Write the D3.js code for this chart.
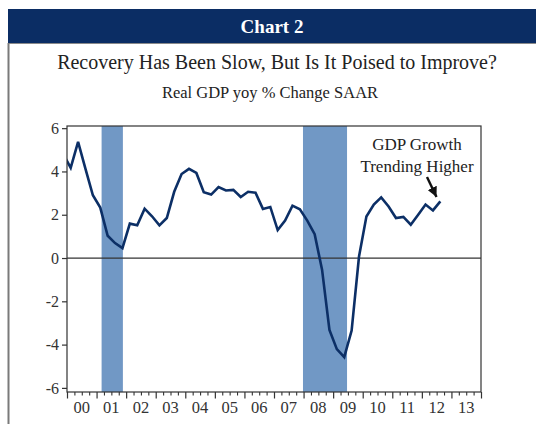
<!DOCTYPE html>
<html><head><meta charset="utf-8">
<script src="https://cdn.jsdelivr.net/npm/d3@7"></script>
<style>
html,body{margin:0;padding:0;background:#fff;}
svg{display:block;font-family:"Liberation Serif","DejaVu Serif",serif;}
</style></head>
<body><svg id="c" width="536" height="424"></svg>
<script>
// ---- data ----
const quarters = ["1999Q4",
 "2000Q1","2000Q2","2000Q3","2000Q4","2001Q1","2001Q2","2001Q3","2001Q4",
 "2002Q1","2002Q2","2002Q3","2002Q4","2003Q1","2003Q2","2003Q3","2003Q4",
 "2004Q1","2004Q2","2004Q3","2004Q4","2005Q1","2005Q2","2005Q3","2005Q4",
 "2006Q1","2006Q2","2006Q3","2006Q4","2007Q1","2007Q2","2007Q3","2007Q4",
 "2008Q1","2008Q2","2008Q3","2008Q4","2009Q1","2009Q2","2009Q3","2009Q4",
 "2010Q1","2010Q2","2010Q3","2010Q4","2011Q1","2011Q2","2011Q3","2011Q4",
 "2012Q1","2012Q2","2012Q3"];
const gdpYoy = [4.8,
 4.17,5.37,4.12,2.9,2.33,1.03,0.69,0.46,
 1.59,1.51,2.28,1.93,1.51,1.85,3.06,3.88,
 4.12,3.93,3.04,2.93,3.28,3.12,3.15,2.82,
 3.06,3.02,2.27,2.36,1.29,1.73,2.42,2.25,
 1.73,1.1,-0.54,-3.32,-4.21,-4.58,-3.35,0.07,
 1.92,2.47,2.8,2.38,1.85,1.9,1.54,2.0,
 2.47,2.2,2.62];
const recessions = [[2001.17, 2001.89], [2007.98, 2009.47]];
const yTicks = [-6,-4,-2,0,2,4,6];
const xYears = [2000,2001,2002,2003,2004,2005,2006,2007,2008,2009,2010,2011,2012,2013];
const xLabels = ["00","01","02","03","04","05","06","07","08","09","10","11","12","13"];
const headerText = "Chart 2";
const titleText = "Recovery Has Been Slow, But Is It Poised to Improve?";
const subtitleText = "Real GDP yoy % Change SAAR";
const noteLines = ["GDP Growth","Trending Higher"];

// ---- layout ----
const svg = d3.select("#c");
const navy = "#0b2d64";
const lineCol = "#0c2f66";
const recCol = "#7198c5";
const axisCol = "#333";

// header & panel
svg.append("rect").attr("x",8).attr("y",9).attr("width",528).attr("height",34).attr("fill",navy);
svg.append("line").attr("x1",8).attr("x2",536).attr("y1",43.5).attr("y2",43.5).attr("stroke","#8a8a8a").attr("stroke-width",1);
svg.append("line").attr("x1",8.5).attr("x2",8.5).attr("y1",43).attr("y2",424).attr("stroke","#7a7a7a").attr("stroke-width",2);
svg.append("text").attr("x",272).attr("y",32.5).attr("text-anchor","middle")
  .attr("fill","#fff").attr("font-weight","bold").attr("font-size",19).text(headerText);
svg.append("text").attr("x",277).attr("y",69).attr("text-anchor","middle")
  .attr("fill","#222").attr("font-size",20).text(titleText);
svg.append("text").attr("x",270).attr("y",98).attr("text-anchor","middle")
  .attr("fill","#222").attr("font-size",16.5).text(subtitleText);

const L=67,R=481,T=126,B=392;
const x = d3.scaleLinear().domain([2000,2014]).range([L,R]);
const y = d3.scaleLinear().domain([-6.19,6.1]).range([B,T]);

const qTime = q => +q.slice(0,4) + (+q.slice(5)-1)/4 + 0.125;
const data = quarters.map((q,i)=>({t:qTime(q), v:gdpYoy[i]}));

svg.append("clipPath").attr("id","clip").append("rect")
  .attr("x",L).attr("y",T).attr("width",R-L).attr("height",B-T);

// recession bars
svg.append("g").selectAll("rect").data(recessions).join("rect")
  .attr("x",d=>x(d[0])).attr("width",d=>x(d[1])-x(d[0]))
  .attr("y",T).attr("height",B-T).attr("fill",recCol);

// zero line
svg.append("line").attr("x1",L).attr("x2",R).attr("y1",y(0)).attr("y2",y(0))
  .attr("stroke",axisCol).attr("stroke-width",1.2);

// line
svg.append("path").datum(data).attr("clip-path","url(#clip)")
  .attr("fill","none").attr("stroke",lineCol).attr("stroke-width",2.6)
  .attr("stroke-linejoin","miter").attr("stroke-miterlimit",3)
  .attr("d", d3.line().x(d=>x(d.t)).y(d=>y(d.v)));

// frame
svg.append("rect").attr("x",L).attr("y",T).attr("width",R-L).attr("height",B-T)
  .attr("fill","none").attr("stroke",axisCol).attr("stroke-width",1.2);

// y axis
const yAx = svg.append("g").attr("transform",`translate(${L},0)`)
  .call(d3.axisLeft(y).tickValues(yTicks).tickSize(5).tickPadding(3).tickFormat(d=>String(d)));
yAx.select(".domain").remove();
yAx.selectAll("line").attr("stroke",axisCol).attr("stroke-width",1.2);
yAx.selectAll("text").attr("font-family","Liberation Serif, serif").attr("font-size",16).attr("fill","#333");

// x axis: major & minor ticks
const minor = d3.range(2000,2014.01,0.25).filter(t=>Math.abs(t-Math.round(t))>0.01);
const xMinor = svg.append("g").attr("transform",`translate(0,${B})`)
  .call(d3.axisBottom(x).tickValues(minor).tickSize(3.5).tickFormat(""));
xMinor.select(".domain").remove();
xMinor.selectAll("line").attr("stroke",axisCol).attr("stroke-width",1.1);
const xMajor = svg.append("g").attr("transform",`translate(0,${B})`)
  .call(d3.axisBottom(x).tickValues(d3.range(2000,2015)).tickSize(6.5).tickFormat(""));
xMajor.select(".domain").remove();
xMajor.selectAll("line").attr("stroke",axisCol).attr("stroke-width",1.2);
svg.append("g").selectAll("text").data(xYears).join("text")
  .attr("x",d=>x(d+0.5)).attr("y",413).attr("text-anchor","middle")
  .attr("font-size",16.5).attr("fill","#333").text((d,i)=>xLabels[i]);

// annotation
svg.append("g").selectAll("text").data(noteLines).join("text")
  .attr("x",417).attr("y",(d,i)=>150+i*21.5).attr("text-anchor","middle")
  .attr("font-size",17).attr("fill","#222").text(d=>d);
const defs = svg.append("defs");
defs.append("marker").attr("id","ah").attr("viewBox","0 0 10 10").attr("refX",10).attr("refY",5)
  .attr("markerWidth",4.2).attr("markerHeight",4.2).attr("orient","auto")
  .append("path").attr("d","M0,0L10,5L0,10z").attr("fill","#111");
svg.append("line").attr("x1",427).attr("y1",177).attr("x2",436.5).attr("y2",197)
  .attr("stroke","#111").attr("stroke-width",2.4).attr("marker-end","url(#ah)");
</script></body></html>
